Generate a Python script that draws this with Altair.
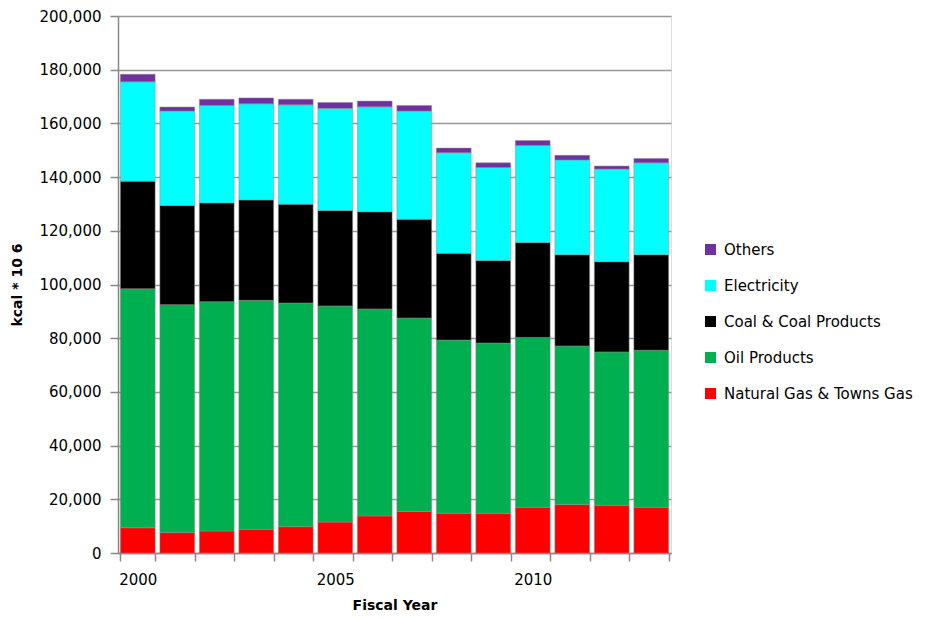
import altair as alt
import pandas as pd

years = [str(y) for y in range(2000, 2014)]
gas = [9400, 7600, 8200, 8800, 9800, 11500, 13800, 15500, 14800, 14800, 17000, 18100, 17800, 17000]
oil = [89000, 84900, 85400, 85300, 83300, 80500, 77100, 72000, 64500, 63400, 63300, 59000, 57100, 58500]
coal = [40100, 36900, 36800, 37400, 36800, 35600, 36200, 36800, 32300, 30700, 35300, 34000, 33600, 35600]
elec = [37000, 35200, 36300, 35800, 37000, 38000, 39100, 40300, 37500, 34700, 36200, 35300, 34500, 34200]
others = [2800, 1500, 2300, 2200, 2100, 2200, 2100, 2100, 1700, 1700, 1800, 1700, 1100, 1600]
y_ticks = [0, 20000, 40000, 60000, 80000, 100000, 120000, 140000, 160000, 180000, 200000]

series = ["Natural Gas & Towns Gas", "Oil Products", "Coal & Coal Products", "Electricity", "Others"]
colors = ["#FF0000", "#00B050", "#000000", "#00FFFF", "#7030A0"]

rows = []
for k, (name, vals) in enumerate(zip(series, [gas, oil, coal, elec, others])):
    for y, v in zip(years, vals):
        rows.append({"Year": y, "Source": name, "Value": v, "ord": k})
df = pd.DataFrame(rows)

FONT = "DejaVu Sans"

chart = alt.Chart(df).mark_bar(stroke="#8c8c8c", strokeWidth=0.5).encode(
    x=alt.X("Year:O",
            scale=alt.Scale(paddingInner=0.12, paddingOuter=0.06),
            axis=alt.Axis(title="Fiscal Year", labelAngle=0,
                          labelExpr="(datum.value == '2000' || datum.value == '2005' || datum.value == '2010') ? datum.value : ''",
                          tickBand="extent", tickSize=8, tickColor="#888888", domainColor="#888888",
                          domainWidth=1.5, tickWidth=1.5, labelOverlap=False,
                          labelFont=FONT, labelFontSize=15, labelColor="#000000", labelPadding=11,
                          titleFont=FONT, titleFontSize=14, titleFontWeight="bold", titleColor="#000000",
                          titlePadding=11)),
    y=alt.Y("Value:Q",
            scale=alt.Scale(domain=[0, 200000]),
            axis=alt.Axis(title="kcal * 10 6", values=y_ticks, labelOverlap=False,
                          format=",d", grid=True, gridColor="#999999", gridWidth=1.5,
                          tickSize=8, tickColor="#888888", tickWidth=1.5, domainColor="#888888", domainWidth=1.5,
                          labelFont=FONT, labelFontSize=15, labelColor="#000000", labelPadding=9,
                          titleFont=FONT, titleFontSize=14, titleFontWeight="bold", titleColor="#000000",
                          titlePadding=14)),
    color=alt.Color("Source:N",
                    scale=alt.Scale(domain=series[::-1], range=colors[::-1]),
                    legend=alt.Legend(title=None, orient="none", legendX=585, legendY=226,
                                      symbolType="square", symbolSize=121, symbolStrokeWidth=0,
                                      labelFont=FONT, labelFontSize=15, labelColor="#000000",
                                      labelLimit=400, rowPadding=20, labelOffset=6)),
    order=alt.Order("ord:Q", sort="ascending"),
).properties(
    width=553, height=537,
    autosize=alt.AutoSizeParams(type="none"),
    padding={"left": 110, "top": 8, "right": 247, "bottom": 58},
).configure_view(stroke=None).configure(background="white")

chart.save("out.html", embed_options={"renderer": "svg", "actions": False})
